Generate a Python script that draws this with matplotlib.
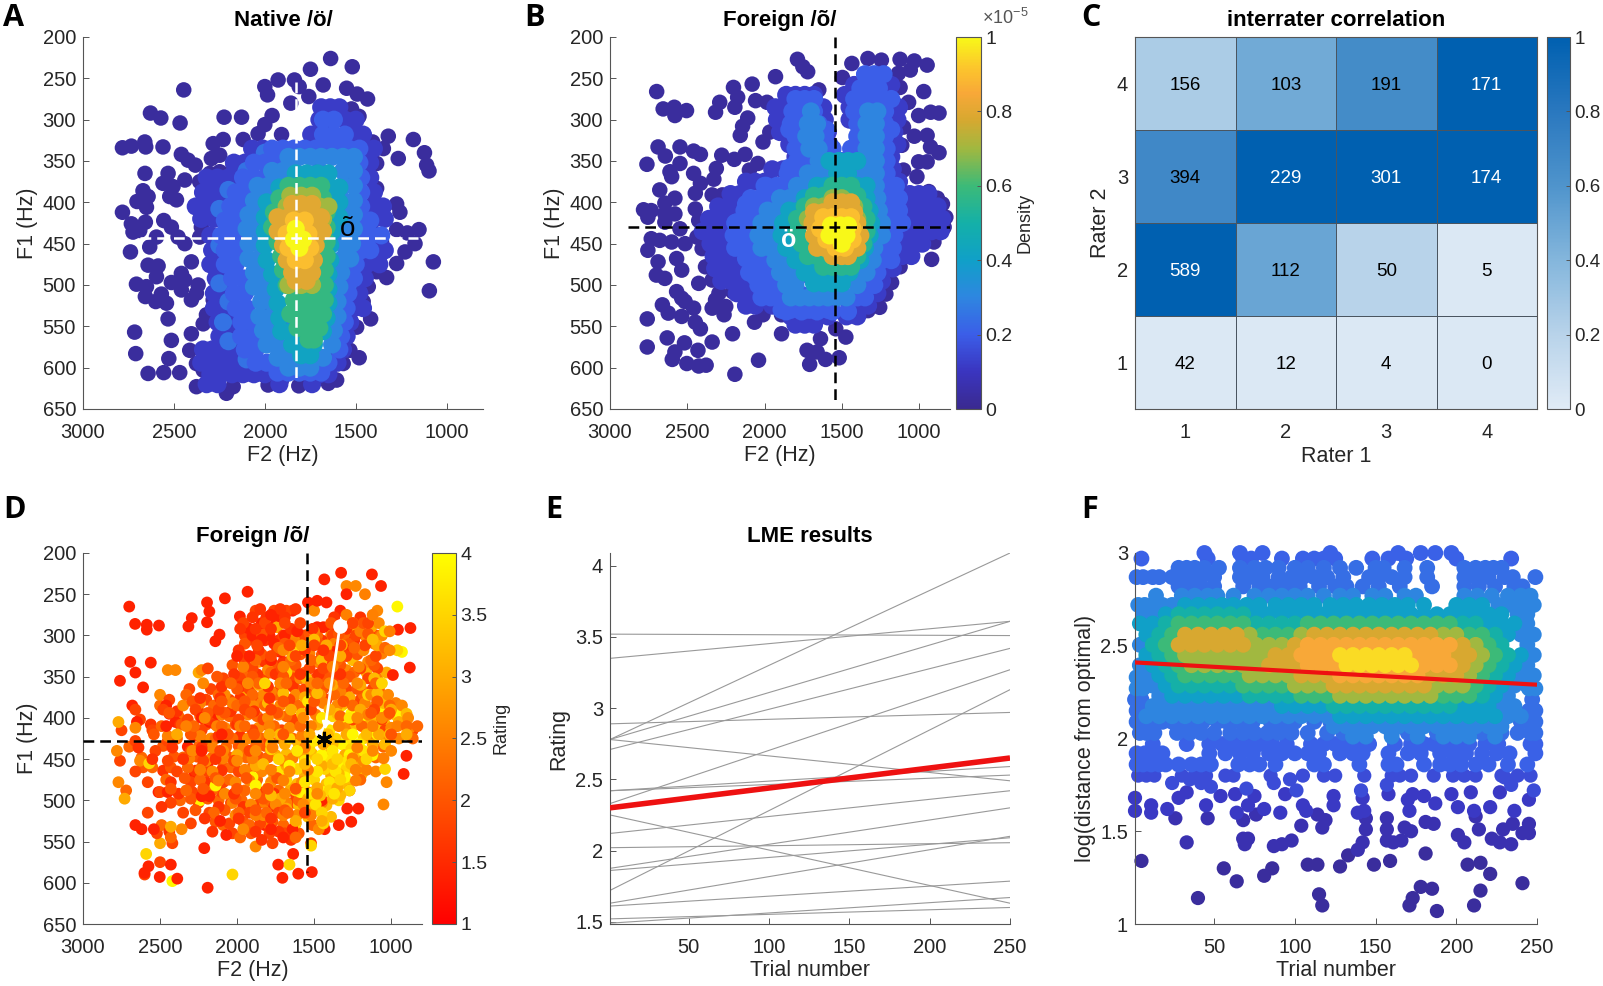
import numpy as np
import matplotlib
matplotlib.use('Agg')
import matplotlib.pyplot as plt
from matplotlib.colors import LinearSegmentedColormap, Normalize
from matplotlib.cm import ScalarMappable

plt.rcParams['font.family'] = ['Liberation Sans', 'DejaVu Sans']
plt.rcParams['mathtext.fontset'] = 'custom'
plt.rcParams['mathtext.rm'] = 'Liberation Sans'

W, H = 1603, 986

# panel A, single points round the edge (F2, F1)
a_out = [(1638,226),(1519,236),(1749,239),(1837,252),(1927,252),(2000,260),(1985,270),(1811,260),(1857,280),(1758,272),
(1679,258),(1550,262),(1492,269),(1435,275),(2446,264),(2629,292),(2572,298),(2466,304),(2224,297),(2128,297),(1960,295),
(2000,306),(1523,287),(1482,296),(1321,320),(1183,324),(1122,340),(1110,355),(1097,362),(1266,347),(1348,335),(1407,327),
(2783,334),(2734,332),(2660,327),(2655,333),(2560,333),(2459,342),(2422,349),(2382,355),(2659,365),(2532,365),(2560,377),
(2505,381),(2523,393),(2440,373),(2358,375),(2284,329),(2229,324),(2119,324),(2294,347),(2248,343),(2037,317),(1908,318),
(2303,365),(2248,363),(2174,355),(2670,386),(2642,393),(2703,399),(2651,406),(2486,397),(2783,412),(2734,426),(2688,434),
(2725,436),(2657,424),(2556,422),(2514,430),(2477,442),(2596,442),(2633,454),(2440,450),(2358,442),(2349,430),(2739,460),
(2642,476),(2587,477),(2596,490),(2404,472),(2459,486),(2514,497),(2706,499),(2651,502),(2657,514),(2569,511),(2541,522),
(2600,520),(2532,541),(2459,506),(2404,518),(2367,500),(2440,494),(2376,510),(2716,557),(2710,583),(2514,567),(2528,589),
(2642,607),(2556,606),(2468,606),(2404,559),(2284,518),(2321,536),(2339,547),(2248,543),(2413,579),(2376,595),(2339,603),
(2284,619),(2376,623),(2211,631),(2174,623),(2266,583),(2193,575),(2138,591),(2092,607),(1982,621),(1908,615),(1813,622),
(1734,613),(1651,619),(1605,615),(1569,595),(1532,579),(1481,588),(1605,587),(1495,551),(1418,541),(1459,520),(1431,502),
(1330,491),(1385,484),(1275,474),(1229,460),(1174,450),(1073,472),(1095,507),(1152,433),(1216,437),(1275,433),(1257,412),
(1275,402),(1376,414),(1358,448),(1358,462),(1385,383),(1385,353),(1440,462),(1532,490)]

# panel A, dense part as (F1, [F2...]) per colour band
a_d12 = [(285,[1690,1640,1590]),(300,[1700,1640,1560,1500]),(318,[1745,1690,1520,1460]),(335,[2070,2010,1440,1400]),
(352,[2170,2110,1420]),(370,[2320,2260,2200,2150,1420]),(388,[2340,2280,2220,1400]),(405,[2380,2320,2260,1410,1350]),
(420,[2350,2280,1400,1340]),(440,[2300,1390]),(458,[2290,2230,1400,1340]),(475,[2300,2240,1440,1370]),(492,[2270,2210,1450]),
(510,[2280,2220,1480]),(528,[2280,2210,1510,1460]),(545,[2260,2190,1530]),(562,[2250,2180,1550]),(578,[2340,2290,2230,2170,1570]),
(594,[2350,2290,2230,2170,2110,1600]),(608,[2300,2240,2180,2120,2060,2000,1700,1650]),(620,[2320,2260,1920,1740])]
a_fill = [(340,[2000,1800,1600]),(362,[2100,1900,1700,1520]),(385,[2200,2000,1800,1600]),(408,[2250,2100,1900,1700,1500]),
(430,[2200,2000,1800,1600,1440]),(452,[2250,2100,1900,1700,1500]),(475,[2200,2000,1800,1600]),(498,[2250,2100,1900,1700,1540]),
(520,[2200,2000,1800,1600]),(545,[2230,2100,1900,1700,1580]),(568,[2200,2000,1800,1620]),(590,[2100,1900,1720])]
a_d20 = [(300,[1680,1620]),(318,[1680,1620,1560]),(335,[1960,1900,1840,1780,1720,1660,1600,1540,1480]),(352,[2060,2000,1940,1480]),
(370,[2120,2060,2000,1470]),(388,[2160,2100,1470]),(405,[2190,2130,1470]),(422,[2220,2160,2100,1470,1420]),
(440,[2240,2180,2120,1480,1420,1360]),(458,[2220,2160,1470,1420]),(475,[2220,2160,1500]),(492,[2180,2120,1510]),(510,[2170,2110,1540]),
(528,[2160,2100,1550]),(545,[2130,2070,1560]),(562,[2130,2060,1580]),(578,[2110,2050,1590]),(594,[2050,1990,1650]),
(606,[1930,1870,1810,1750,1690])]
a_d30 = [(345,[1870,1810,1750,1690,1630,1570,1510]),(362,[1960,1900,1840,1570,1510]),(380,[2040,1980,1920,1570,1510]),
(398,[2060,2000,1570,1510]),(415,[2090,2030,1560,1510]),(432,[2100,2040,1560,1510]),(450,[2090,2030,1570,1520]),(468,[2090,2030,1570,1530]),
(485,[2060,2000,1580]),(502,[2060,2000,1590]),(520,[2020,1960,1600]),(538,[2030,1960,1600]),(555,[2010,1950,1620]),(572,[1990,1930,1630]),
(588,[1930,1870,1680]),(600,[1870,1810,1750])]
a_d42 = [(365,[1830,1770,1710,1650]),(382,[1920,1860,1650,1590]),(400,[1990,1930,1640,1590]),(418,[2000,1640,1590]),(435,[2000,1630]),
(452,[2000,1640]),(470,[1990,1640]),(487,[1960,1650]),(505,[1940,1650]),(522,[1930,1650]),(540,[1920,1660]),(556,[1910,1850,1680]),
(572,[1850,1790,1730]),(585,[1800,1750])]
a_d58 = [(380,[1870,1810,1750,1690]),(395,[1920,1680]),(412,[1950,1660]),(430,[1960,1660]),(448,[1930,1660]),(465,[1910,1660]),
(482,[1900,1670]),(500,[1880,1670]),(518,[1840,1780,1720,1670]),(535,[1860,1800,1740,1680]),(552,[1820,1760,1700]),(566,[1760,1730])]
a_d70 = [(392,[1860,1800,1740]),(405,[1880,1700,1650]),(420,[1900,1680]),(500,[1870,1800,1740]),(490,[1820,1760])]
a_d80 = [(402,[1850,1800,1740]),(418,[1930,1870,1810,1750,1690]),(435,[1930,1730,1680]),(452,[1900,1720]),(470,[1880,1730]),
(485,[1850,1790,1740]),(495,[1830,1770])]
a_d90 = [(422,[1840,1780]),(438,[1880,1820,1760]),(455,[1870,1810,1750]),(470,[1830,1780])]
a_d100 = [(432,[1830]),(445,[1840,1790]),(455,[1810])]

# panel B
b_out = [(2698,266),(2656,287),(2584,285),(2580,295),(2505,289),(2317,291),(2290,279),(2201,261),(2174,273),(2192,285),(2080,257),
(2058,277),(2109,298),(2142,308),(2157,319),(1929,248),(1787,227),(1752,236),(1721,242),(1984,279),(1966,315),(2010,327),(1649,264),
(1496,249),(1435,232),(1331,226),(1244,228),(1123,227),(1031,229),(1057,240),(948,234),(1134,244),(970,266),(1123,261),(1068,279),
(1003,295),(925,291),(871,292),(1101,309),(1031,320),(948,319),(1112,331),(926,333),(871,340),(1003,351),(948,351),(1101,361),(1014,369),
(937,387),(882,395),(849,402),(827,418),(838,430),(904,448),(919,469),(1068,459),(1123,478),(1233,483),(1178,497),(1215,511),(1255,527),
(1331,531),(1397,524),(1430,535),(1342,502),(2689,333),(2642,344),(2761,354),(2547,333),(2547,353),(2612,363),(2601,369),(2459,338),
(2415,342),(2277,343),(2312,359),(2328,372),(2196,348),(2126,342),(2098,361),(2043,353),(2678,385),(2580,395),(2645,401),(2645,414),
(2580,414),(2645,424),(2547,432),(2783,409),(2733,410),(2755,418),(2459,365),(2415,377),(2448,389),(2339,391),(2273,391),(2448,408),
(2426,422),(2733,444),(2678,446),(2601,448),(2755,458),(2689,472),(2700,488),(2645,492),(2569,468),(2514,450),(2536,482),(2437,442),
(2404,456),(2569,508),(2514,520),(2536,516),(2661,524),(2623,534),(2536,538),(2459,528),(2448,545),(2415,553),(2759,541),(2759,575),
(2630,564),(2518,570),(2580,581),(2597,590),(2503,595),(2431,579),(2426,598),(2378,597),(2339,569),(2317,518),(2339,528),(2262,536),
(2207,559),(2039,591),(2192,608),(2065,545),(2010,536),(1890,536),(1890,559),(1725,579),(1660,581),(1605,590),(1638,565),(1708,596),
(1517,588),(1539,553),(1474,563),(1605,538),(1758,545),(1693,547),(1813,535),(2251,478),(2382,478),(2426,498),(2339,494),(2295,510),
(2229,490),(2142,500),(2207,508),(2251,526),(2098,506),(2054,514),(1988,526),(1901,506),(1835,522)]

b_d12 = [(258,[1420,1360,1300,1240,1180]),(270,[1860,1800,1740,1680,1480,1200]),(285,[1930,1870,1620,1450,1130]),(300,[1920,1870,1610,1450,1140]),
(315,[1900,1830,1590,1160]),(330,[1840,1580,1190,1140]),(345,[1800,1560,1180]),(360,[1950,1880,1810,1170]),(375,[2120,2060,2000,1190,1130]),
(390,[2220,2160,1120,1060,1000,940]),(405,[2300,2240,2180,1060,1000,940,880]),(420,[2360,2300,2240,1080,1020,960,900,850]),
(435,[2400,2340,2280,1100,1040,980,920,860]),(450,[2350,2290,2230,1170,1110,1050,980]),(465,[2330,2270,2200,1170,1110,1050]),
(480,[2320,2260,2190,1170]),(495,[2280,2220,2150,1290,1240]),(510,[2180,2120,2060,1320,1270]),(525,[2120,2060,1950,1890,1450,1390,1330]),
(538,[1830,1770,1710,1650,1590,1470,1400]),(548,[1800,1740,1680])]
b_fill = [(270,[1360,1260]),(290,[1780,1680,1420,1320,1220]),(312,[1840,1720,1600,1380,1280,1180]),(335,[1800,1680,1560,1440,1340,1240]),
(358,[1840,1720,1600,1480,1360,1240]),(380,[2000,1880,1760,1640,1520,1400,1280,1180]),(402,[2120,2000,1880,1760,1640,1520,1400,1280,1180]),
(424,[2180,2060,1940,1820,1700,1580,1460,1340,1220,1120]),(446,[2160,2040,1920,1800,1680,1560,1440,1320,1200]),
(468,[2120,2000,1880,1760,1640,1520,1400,1280]),(490,[2060,1940,1820,1700,1580,1460,1340]),(512,[2000,1880,1760,1640,1520,1400]),
(532,[1860,1760,1660,1560,1460])]
b_d20 = [(245,[1350,1290,1230]),(262,[1380,1320,1260]),(275,[1800,1740,1680,1420,1360,1300,1240,1180]),(290,[1820,1760,1700,1410,1350,1290,1230]),
(305,[1830,1770,1650,1400,1220]),(320,[1800,1610,1400,1220]),(335,[1770,1580,1390,1210]),(350,[1790,1720,1500,1440,1210]),(365,[1850,1780,1210]),
(380,[1990,1920,1850,1200,1150]),(395,[2090,2030,1960,1190,1130]),(410,[2130,2070,2010,1190,1130]),(425,[2190,2130,2070,1170,1110]),
(440,[2200,2140,2080,1220,1160]),(455,[2190,2130,2070,1230,1170]),(470,[2100,2040,1980,1240,1180]),(485,[2100,2040,1980,1270]),
(500,[2040,1980,1920,1340,1290]),(515,[2020,1960,1900,1400,1350]),(530,[1890,1830,1770,1710,1650,1590])]
b_d30 = [(290,[1700,1330,1270]),(305,[1720,1660,1340,1280]),(320,[1730,1670,1340,1280]),(335,[1710,1650,1340,1280]),(350,[1650,1590,1350,1280]),
(365,[1720,1650,1590,1400,1340,1280]),(380,[1790,1730,1280]),(395,[1900,1840,1780,1270]),(410,[1980,1920,1260]),(425,[2020,1960,1240]),
(440,[2040,1980,1240]),(455,[2020,1960,1290]),(470,[1930,1870,1300]),(485,[1900,1840,1340]),(500,[1860,1800,1400]),
(515,[1830,1770,1710,1650,1590,1530,1470])]
b_d42 = [(350,[1580,1520,1460,1400]),(365,[1530,1460]),(380,[1660,1600,1400,1340]),(395,[1740,1680,1340]),(410,[1840,1780,1320]),(425,[1880,1820,1310]),
(440,[1890,1830,1320]),(455,[1860,1800,1350]),(470,[1800,1740,1380]),(485,[1740,1680,1620,1450]),(498,[1680,1620,1560,1500])]
b_d55 = [(380,[1560,1500,1440]),(392,[1680,1620,1400]),(405,[1740,1360]),(420,[1790,1340]),(435,[1790,1340]),(450,[1760,1360]),(465,[1720,1660,1400]),
(478,[1620,1560,1500,1440])]
b_d68 = [(395,[1560,1500]),(405,[1680,1620,1420]),(420,[1720,1400])]
b_d80 = [(400,[1560,1500,1440]),(412,[1680,1620,1420]),(425,[1690,1400]),(440,[1680,1380]),(455,[1660,1610,1400]),(465,[1560,1500,1460])]
b_d90 = [(418,[1620,1560,1500,1440]),(432,[1640,1430]),(445,[1600,1430]),(455,[1540,1480])]
b_d100 = [(428,[1570,1510,1460]),(440,[1580,1520,1470]),(450,[1500])]

# panel C
c_counts = [[42,12,4,0],[589,112,50,5],[394,229,301,174],[156,103,191,171]]
c_shade = [[0.03,0.03,0.03,0.03],[1,0.5,0.2,0.03],[0.68,1,1,1],[0.25,0.47,0.66,1]]
raters = [1,2,3,4]

# panel D, rating groups as (F1, [F2...])
d_r14 = [(224,[1325]),(226,[1125]),(232,[1434]),(240,[1066]),(247,[1932]),(250,[1290]),(255,[2079]),(258,[1480]),(260,[2195,1540,1420]),(265,[2700]),
(270,[1330,1640]),(271,[2180]),(275,[1780]),(277,[1982,1720]),(279,[2294]),(284,[2195]),(285,[1840]),(286,[2662,1750]),(287,[2586]),(288,[2507]),(289,[2316]),
(290,[1810,1480,1440,1400]),(291,[875,1930]),(293,[2586,956]),(295,[1870,1610]),(299,[2114]),(300,[1900,1790,1690]),(305,[1840]),(307,[2141]),(310,[1760]),
(320,[1370,1720]),(325,[2000,1920]),(330,[1780]),(332,[2693]),(333,[2560]),(339,[879]),(345,[1800,1700,2660]),(348,[989]),(355,[1630,2760]),(363,[2610]),
(385,[2680,2460]),(395,[2440,2130]),(400,[2230]),(405,[2650,2400,2180]),(410,[2460]),(420,[2100]),(435,[2320]),(440,[2230]),(446,[901]),(455,[2190]),
(468,[919]),(470,[2280]),(490,[2510,2450]),(495,[2230,2180]),(500,[1450]),(510,[1285,1213]),(526,[1259]),(530,[2660,1340,1820]),(535,[2620,2540,1780,1432,1640]),
(525,[2110]),(542,[2070]),(545,[1700]),(558,[2213]),(565,[1636]),(578,[1733,2430]),(580,[2575]),(587,[1515]),(588,[2601]),(589,[1603]),(593,[2502]),
(594,[1706]),(595,[2388]),(606,[2191])]
d_r16 = [(268,[1850,1720,1620]),(278,[1900,1810,1690,1370,1200]),(292,[1980,1880,1780,1650,1510,1290]),(306,[1930,1820,1730,1600,1450,1240]),
(318,[1990,1860,1740,1560,1440,1290]),(332,[1950,1820,1700,1480,1380]),(347,[2020,1870,1750,1590,1470,1330]),(362,[2100,1980,1800,1640]),(376,[2240,2110,1980,1790]),
(392,[2390,2250,2040,1890]),(408,[2560,2370,2140,2000]),(422,[2280,2120,1980]),(436,[2640,2420,2230]),(450,[2550,2350,2140]),(464,[2480,2270,2100]),(478,[2430,2200]),
(492,[2380,2020,1760]),(508,[2490,2120,1960,1760]),(522,[2210,1990,1780]),(538,[2440,2160,1880,1730]),(548,[1840,1650])]
d_r18 = [(270,[1880,1760,1680]),(285,[1960,1820,1690,1590,1250,1150]),(300,[1950,1700,1560,1380,1230,1100]),(312,[1870,1660,1500,1330,1170]),
(325,[1960,1780,1620,1400,1290,1100]),(340,[2190,1900,1710,1530,1440,1200,1090]),(352,[2090,1980,1830,1640,1490,1350,1150]),(365,[2310,2170,1920,1720,1560,1290,1120]),
(378,[2440,2200,2050,1860,1660,1420,1200]),(390,[2660,2480,2270,2120,1950,1780,1520,1110]),(402,[2630,2320,2180,1990,1830,1630,1250,1060]),
(415,[2750,2550,2230,2080,1900,1710,1040,860]),(428,[2660,2450,2190,1960,1790]),(440,[2530,2300,2110,1920]),(452,[2760,2450,2220,2020]),
(465,[2660,2390,2190,1990,1760]),(478,[2580,2300,2090]),(490,[2500,2290,2100,1830,1630]),(503,[2430,2250,2040,1850,1640]),(515,[2580,2350,2180,1920,1730,1560]),
(528,[2300,2050,1850,1620]),(540,[2520,2030,1790,1690]),(552,[2420,1770,1520]),(575,[2500]),(590,[2600])]
d_r20 = [(285,[1390,1180]),(298,[1840,1530,1340,1150]),(310,[1950,1690,1470,1270]),(323,[1840,1590,1450,1220]),(336,[2030,1760,1620,1330,1110]),(350,[2130,1900,1700,1430,1270]),
(365,[2000,1820,1620,1440,1220,1080]),(380,[2290,2100,1950,1700,1500,1310,1090]),(394,[2440,2190,2080,1910,1740,1130,1010]),(408,[2360,2200,2010,1820,1640,1100,940]),
(420,[2540,2300,2060,1890,1700,1000]),(434,[2480,2200,1990,1820]),(447,[2410,2260,2060,1860]),(460,[2610,2430,2230,2090]),(473,[2340,2140,1940,1740]),
(486,[2430,2220,2000,1800,1620]),(498,[2300,2190,2010,1830]),(512,[2270,2080,1880,1690]),(526,[2140,1960,1770]),(540,[1910,1600])]
d_r22 = [(300,[1640,1480,1300,1070]),(315,[1730,1420,1240,1040]),(330,[1880,1650,1520,1350,1130]),(345,[1950,1780,1560,1400,1240]),(358,[2040,1860,1680,1480,1310,1100]),
(372,[2330,2120,1900,1750,1540,1370,1180,1060]),(385,[2500,2150,2000,1820,1600,1250,1010]),(398,[2380,2240,2050,1870,1680,1330,1130,960]),
(410,[2490,2280,2100,1950,1760,1590,1190,900,830]),(425,[2390,2140,2030,1840,1640,860]),(435,[2700,2250,2070,1880,1050]),(448,[2620,2350,2160,1940,1800,1100]),
(460,[2550,2320,2040,1900]),(475,[2460,2240,2050,1870,1200]),(488,[2720,2330,2160,1950,1730,1270]),(500,[2370,2120,1970,1790,1600]),(515,[2150,1990,1810,1670]),
(530,[2490,2090,1920,1700,1510]),(545,[2430,1980,1620])]
d_r25 = [(250,[1170]),(275,[1290,1120]),(295,[1500,1200,1010]),(310,[1630,1370,1110]),(322,[1530,1240,1060]),(338,[1960,1700,1380,1210]),(352,[1880,1590,1430,1090]),
(368,[1960,1780,1510,1330,1180]),(382,[2240,2030,1840,1650,1440,1170,970]),(396,[2100,1930,1730,1490,1150,1020]),(410,[2330,2130,1980,1790,1520,1340,1120,960]),
(422,[2450,2240,2060,1880,1580,1140,1010]),(436,[2160,1960,1770,1560,1220]),(449,[2310,2090,1900,1640,1250,1050]),(463,[2240,1950,1780,1540,1230,1160]),
(476,[2120,1920,1700,1230]),(490,[2000,1770,1540]),(503,[2030,1820,1680,1450]),(518,[1880,1700,1520]),(530,[1790,1440])]
d_r26 = [(240,[1230,1290]),(270,[1500,1090]),(285,[1250,1080]),(300,[1620,1390,1170,1060]),(318,[1700,1310,1180,1010]),(332,[1860,1470,1150]),
(342,[2450,2400,2230,1800,1640,1290]),(358,[2220,1930,1720,1520,1400,1220]),(372,[2500,2080,1830,1620,1460,1130,1020]),(385,[2350,1900,1720,1530,1350,1100,930]),
(400,[2210,1800,1570,1220,1060,890]),(412,[2660,2080,1860,1660,1290,1000,880]),(425,[2170,1930,1720,1030,950]),(440,[2780,2290,2090,1880,1610,1120,1000]),
(452,[2630,2200,2000,1700,1180]),(465,[2160,1840,1660,1100]),(478,[2770,2010,1780,1580,1030]),(492,[2080,1880,1690,1480]),(505,[1910,1750,1570,1050]),
(518,[2010,1830,1610]),(535,[2360,1960,1470]),(556,[1880])]
d_r30 = [(290,[1740,1250,1130]),(312,[1580,1420,1320,1090]),(325,[1640,1330]),(345,[2250,1620,1310,1160,1030]),(360,[1860,1380,1200]),(375,[1940,1560,1270,1040]),
(390,[1650,1400,1200,1000]),(405,[2770,1470,1130,950]),(420,[2390,1790,1530,1290,1080,900]),(432,[1690,1440,1120]),(445,[2000,1750,1570,1300,1130]),
(458,[2200,1880,1680,1450,1210]),(470,[1930,1760,1560,1390]),(485,[1800,1650,1480,1350]),(498,[2730,1720,1540,1380]),(510,[1680,1510]),(525,[1620,1450]),
(532,[2430]),(552,[2500])]
d_r32 = [(305,[1500,1120]),(330,[1450,1250]),(352,[1550,1110]),(370,[1700,1480,1090]),(382,[1800,1300,1050]),(395,[1580,1350,1110,900]),(408,[1620,1480,1230,1040]),
(420,[1720,1410,1160,1010]),(432,[1780,1600,1380,1040]),(444,[1680,1510,1400,1210]),(456,[1830,1560,1380,1260]),(468,[1700,1500,1340,1190]),(480,[1880,1610,1420,1290]),
(494,[1780,1460,1330]),(506,[1600,1420]),(520,[1540,1390])]
d_r35 = [(295,[1040]),(318,[1590,960]),(345,[1680]),(358,[1820,1060]),(372,[1150]),(385,[1620,1320]),(398,[1380,1180,960]),(412,[1290,1100]),(425,[1660,1360,1180]),
(438,[1780,1530,1260]),(450,[1730,1480,1350,1160]),(455,[2570]),(462,[1610,1430,1290,1040]),(475,[1680,1500,1330]),(488,[1620,1400,1270]),(500,[1510,1340]),
(515,[1450]),(528,[1440,1620]),(555,[1520]),(565,[2590]),(578,[1660]),(590,[2030])]
d_r37 = [(380,[1540]),(400,[1450,1270]),(415,[1400,1140]),(428,[1500,1270]),(440,[1610,1380,1180]),(452,[1560,1410,1280]),(465,[1720,1480,1360]),(478,[1560,1400]),
(492,[1520,1370]),(505,[1490])]
d_r39 = [(265,[960]),(320,[930]),(395,[1260,1060,950]),(408,[1180,1320]),(420,[1250,1090]),(432,[1320,1210]),(445,[1270,1450,1120]),(458,[1420,1660,1320]),
(472,[1300,1900]),(482,[2140,1880]),(490,[1870,1590,1440]),(500,[1710,2240]),(598,[2420])]

# panel E
e_start = [2.78,3.35,2.78,3.52,2.71,2.33,1.72,2.89,2.42,2.42,2.78,2.12,1.875,1.63,1.86,2.02,2.25,1.61,1.52,1.49]
e_end = [4.09,3.61,3.61,3.51,3.42,3.27,3.13,2.97,2.59,2.53,2.49,2.42,2.30,2.10,2.09,2.055,1.63,1.785,1.60,1.67]
e_mean = [2.30,2.65]
e_trials = [1,250]

# panel F, (y, [trial...]) per colour band
f_d03 = [(1.07,[188]),(1.10,[117,171,211]),(1.14,[40,173]),(1.16,[115]),(1.18,[215]),(1.19,[185]),(1.20,[178]),(1.22,[241]),(1.23,[64]),(1.26,[81]),(1.27,[221]),
(1.30,[56,86]),(1.31,[128]),(1.32,[108,114,149,207]),(1.33,[215]),(1.34,[5,159]),(1.37,[133]),(1.38,[181])]
f_d07 = [(1.40,[139]),(1.42,[87]),(1.43,[92,69,234]),(1.44,[33,142,161,205,227]),(1.45,[98,157,166]),(1.46,[68,71,222]),(1.48,[201]),(1.49,[241,245]),(1.50,[172]),
(1.51,[144,157,214,229]),(1.52,[117,168]),(1.53,[104]),(1.54,[186,235,245]),(1.55,[181]),(1.56,[68,119]),(1.57,[26,46,144,157]),(1.58,[212]),(1.59,[76,114])]
f_d11 = [(1.60,[11,64,91,139]),(1.61,[1,107,143,171,211,236]),(1.62,[21,81]),(1.63,[201,221]),(1.64,[11,45,71,105,124]),(1.65,[187]),(1.67,[170,245]),(1.68,[1,28,142]),
(1.69,[54,75,124,180]),(1.70,[63,94,158,173,197]),(1.71,[33,209,227])]
f_d16 = [(1.72,[101,141,248]),(1.73,[70]),(1.74,[48]),(1.75,[157,234]),(1.76,[24,42,87]),(1.78,[35,97]),(1.79,[230]),
(1.80,[3,8,13,30,38,45,57,62,85,105,118,125,143,160,165,172,186,198,205,212,228,238,246])]
f_d21 = [(1.86,[2,6,11,16,20,28,36,42,48,65,72,78,88,112,118,140,158,163,180,190,196,203,212,220,232,244]),
(1.92,[2,7,13,18,47,57,66,74,84,92,100,108,115,128,136,142,158,170,178,190,198,206,216,225,233,249]),
(1.97,[12,33,47,55,62,70,78,86,95,110,118,125,131,138,146,162,172,180,186,194,200,208,218,226,246,249]),
(3.0,[44,66,80,122,164,178,187,197]),(2.97,[5,46,68,73,92,105,112,118,125,148,158,169,200,234])]
f_d24 = [(2.03,[4,8,13,27,35,42,50,60,68,75,83,90,98,108,120,130,160,170,188,198,206,216,228,238,246,249]),
(2.09,[2,6,10,14,18,24,30,36,43,52,58,66,74,85,93,100,112,122,240,246,249]),
(2.15,[2,6,249,245]),(2.21,[1,5,247]),(2.92,[28,33,38,44,53,66,75,82,90,100,108,118,128,138,150,155,168,182,205,212,218,223,228]),
(2.87,[2,6,12,16,24,30,36,42,50,66,72,80,90,98,105,112,120,130,146,152,160,168,182,205,212,220,230,235,249]),
(2.82,[28,35,42,50,68,78,86,95,103,115,125,132,142,152,165,185,205,214,224,236,241])]
f_d30 = [(2.77,[14,30,38,46,52,62,75,84,92,100,108,118,128,136,148,156,168,175,205,213,222,232,240,246]),
(2.72,[3,7,12,18,24,248,242,234,226]),(2.67,[6,12,238,244]),(2.62,[244]),(2.56,[240,248]),(2.505,[4,244]),(2.45,[248]),(2.395,[4,244]),(2.34,[8,240,248]),
(2.285,[4,12,236,244]),(2.23,[16,232]),(2.175,[12,20,28,36,44,52,60,68,76,84,228,236]),
(2.12,[8,16,24,32,40,48,56,64,72,80,88,96,104,112,120,232,240]),(2.065,[124,132,140,148,156,164,172,180,188,196,204,212,220,228]),
(2.01,[136,144,160,176,192,200,208,224]),(2.27,[2,6,245,249]),(2.33,[2,243])]
f_d40 = [(2.72,[32,40,48,55,62,70,78,88,96,104,112,122,130,138,146,154,162,170,180,200,208,216]),
(2.67,[20,76,84,92,100,108,116,124,132,140,148,156,164,172,180,188,196,204,212,220,228]),(2.62,[4,12,220,228,236]),(2.56,[8,232]),(2.45,[8,240]),(2.395,[12,236]),
(2.34,[16,232]),(2.285,[20,228]),(2.23,[24,32,40,48,56,64,224]),(2.175,[92,100,108,116,204,212,220]),(2.12,[128,136,144,152,160,168,176,184,192,200,208,216,224])]
f_d50 = [(2.67,[28,36,44,52,60,68]),(2.62,[20,76,84,92,100,204,212]),(2.56,[16,224]),(2.505,[12,228]),(2.45,[16,232]),(2.395,[20,228]),(2.34,[24,224]),
(2.285,[28,36,44,52,60,220]),(2.23,[72,80,88,96,216]),(2.175,[124,132,140,148,156,164,172,180,188,196])]
f_d60 = [(2.62,[28,36,44,52,60,68,108,116,124,132,140,148,156,164,172,180,188,196]),(2.56,[24,80,88,96,208,216]),(2.505,[20,220]),(2.45,[24,224]),(2.395,[28,220]),
(2.34,[32,40,48,56,64,216]),(2.285,[68,76,84,92,212]),(2.23,[104,112,120,192,200,208])]
f_d70 = [(2.56,[72,104,192,200]),(2.505,[76,84,92,212]),(2.45,[32,40,48,56,64,72,80,216]),(2.395,[36,44,52,60,68,76,212]),(2.34,[72,80,88,96,208]),
(2.285,[100,108,116,188,196,204]),(2.23,[128,136,144,152,160,168,176,184])]
f_d78 = [(2.56,[32,40,48,56,64,112,120,128,136,144,152,160,168,176,184]),(2.505,[28,36,44,52,60,68,100,204]),(2.45,[88,96,200,208]),(2.395,[84,92,100,204]),
(2.34,[104,112,120,184,192,200]),(2.285,[124,132,140,148,156,164,172,180])]
f_d85 = [(2.505,[108,116,124,132,140,148,156,164,172,180,188,196]),(2.45,[104,112,120,176,184,192]),(2.395,[108,116,124,180,188,196]),
(2.34,[128,136,144,152,160,168,176])]
f_d95 = [(2.45,[128,136,144,152,160,168]),(2.395,[132,140,148,156,164,172])]
f_fit = [2.41,2.29]

parula_ish = LinearSegmentedColormap.from_list('parula_ish', [
    (0.0,'#3a2a90'),(0.1,'#3a35c0'),(0.2,'#3b5ee8'),(0.3,'#2e86e0'),(0.4,'#10a0c8'),(0.5,'#14b0a8'),
    (0.6,'#3cba78'),(0.7,'#a0b840'),(0.78,'#d8a830'),(0.85,'#f8a838'),(0.92,'#fcc62c'),(1.0,'#f8f818')])
blues_ish = LinearSegmentedColormap.from_list('blues_ish', ['#e0ebf6','#b8d3ea','#84b6dc','#4f94cc','#2a78bf','#0060b0'])
ink = '#262626'
spine = '#555555'


def add_axes(l, t, r, b):
    ax = fig.add_axes([l/W, 1-b/H, (r-l)/W, (b-t)/H])
    for s in ['top','right']:
        ax.spines[s].set_visible(False)
    for s in ['left','bottom']:
        ax.spines[s].set_color(spine)
        ax.spines[s].set_linewidth(0.8)
    ax.tick_params(direction='in', length=4, width=0.7, color=spine, labelcolor=ink, labelsize=14.5, pad=5)
    ax.tick_params(axis='x', pad=10)
    return ax


def add_cbar(l, t, r, b, cmap, vmin, vmax, ticks, labels, size=14):
    cax = fig.add_axes([l/W, 1-b/H, (r-l)/W, (b-t)/H])
    cb = fig.colorbar(ScalarMappable(Normalize(vmin, vmax), cmap), cax=cax)
    cb.set_ticks(ticks)
    cb.set_ticklabels(labels)
    cb.outline.set_edgecolor(spine)
    cb.outline.set_linewidth(0.8)
    cax.tick_params(direction='in', length=3, width=0.7, color=spine, labelcolor=ink, labelsize=size, pad=3)
    return cb


def unpack(rows):
    row_vals, vals = [], []
    for r, items in rows:
        for v in items:
            row_vals.append(r)
            vals.append(v)
    return vals, row_vals


def density_scatter(ax, bands, s):
    for level, rows in bands:
        x, y = unpack(rows)
        ax.scatter(x, y, s=s, c=[level]*len(x), cmap=parula_ish, vmin=0, vmax=1, linewidths=0, clip_on=False, zorder=2)


def formant_axes(ax, title):
    ax.set_xlim(3000, 800)
    ax.set_ylim(650, 200)
    ax.set_xticks([3000,2500,2000,1500,1000])
    ax.set_yticks([200,250,300,350,400,450,500,550,600,650])
    ax.set_xlabel('F2 (Hz)', fontsize=15.5, color=ink, labelpad=2)
    ax.set_ylabel('F1 (Hz)', fontsize=15.5, color=ink, labelpad=3)
    ax.set_title(title, fontsize=16, fontweight='bold', color='black', pad=8)


fig = plt.figure(figsize=(W/100, H/100), dpi=100)

# A
ax = add_axes(83, 37, 483, 409)
xs, ys = zip(*a_out)
ax.scatter(xs, ys, s=125, c=[0.03]*len(xs), cmap=parula_ish, vmin=0, vmax=1, linewidths=0, clip_on=False, zorder=2)
density_scatter(ax, [(0.12,a_d12),(0.25,a_fill),(0.2,a_d20),(0.3,a_d30),(0.42,a_d42),(0.58,a_d58),(0.7,a_d70),(0.8,a_d80),(0.9,a_d90),(1.0,a_d100)], 170)
ax.plot([1831,1831], [254,615], color='white', lw=1.8, dashes=(4.3,2.4), zorder=3)
ax.plot([2688,1156], [443,443], color='white', lw=1.8, dashes=(4.3,2.4), zorder=3)
ax.text(1545, 432, 'õ', fontsize=20, color='black', ha='center', va='center', zorder=4)
formant_axes(ax, 'Native /ö/')

# B
ax = add_axes(610, 37, 950, 409)
xs, ys = zip(*b_out)
ax.scatter(xs, ys, s=125, c=[0.03]*len(xs), cmap=parula_ish, vmin=0, vmax=1, linewidths=0, clip_on=False, zorder=2)
density_scatter(ax, [(0.12,b_d12),(0.2,b_fill),(0.2,b_d20),(0.3,b_d30),(0.42,b_d42),(0.55,b_d55),(0.68,b_d68),(0.8,b_d80),(0.9,b_d90),(1.0,b_d100)], 170)
ax.plot([1544,1544], [200,641], color='black', lw=1.8, dashes=(4.3,2.4), zorder=3)
ax.plot([2882,800], [430,430], color='black', lw=1.8, dashes=(4.3,2.4), zorder=3)
ax.text(1842, 446, 'ö', fontsize=18, fontweight='bold', color='white', ha='center', va='center', zorder=4)
formant_axes(ax, 'Foreign /õ/')
cb = add_cbar(956, 37, 981, 409, parula_ish, 0, 1, [0,0.2,0.4,0.6,0.8,1], ['0','0.2','0.4','0.6','0.8','1'])
fig.text(1025/W, 1-223/H, 'Density', rotation=90, fontsize=13, color=ink, ha='center', va='center')
fig.text(982/W, 1-18/H, '×10$^{-5}$', fontsize=13, color='#555555', ha='left', va='center')

# C
ax = add_axes(1135, 37, 1537, 409)
edges = [0.5,1.5,2.5,3.5,4.5]
ax.pcolormesh(edges, edges, np.array(c_shade), cmap=blues_ish, vmin=0, vmax=1, edgecolors='#4a5560', linewidth=0.6)
for i, row in enumerate(c_counts):
    for j, val in enumerate(row):
        ax.text(raters[j], raters[i], str(val), ha='center', va='center_baseline', fontsize=13.5,
                color='white' if c_shade[i][j] >= 0.9 else 'black')
ax.set_xticks(raters)
ax.set_yticks(raters)
ax.tick_params(length=0)
for s in ['top','right']:
    ax.spines[s].set_visible(True)
    ax.spines[s].set_color(spine)
ax.set_xlabel('Rater 1', fontsize=15.5, color=ink, labelpad=3)
ax.set_ylabel('Rater 2', fontsize=15.5, color=ink, labelpad=4)
ax.set_title('interrater correlation', fontsize=16, fontweight='bold', color='black', pad=8)
add_cbar(1547, 37, 1570, 409, blues_ish, 0, 1, [0,0.2,0.4,0.6,0.8,1], ['0','0.2','0.4','0.6','0.8','1'], size=13.5)

# D
ax = add_axes(83, 553, 422, 924)
d_x, d_y, d_c = [], [], []
for level, rows in [(1.4,d_r14),(1.6,d_r16),(1.8,d_r18),(2.0,d_r20),(2.2,d_r22),(2.5,d_r25),(2.6,d_r26),(3.0,d_r30),(3.2,d_r32),(3.5,d_r35),(3.7,d_r37),(3.9,d_r39)]:
    x, y = unpack(rows)
    d_x += x
    d_y += y
    d_c += [level]*len(x)
d_x, d_y, d_c = np.array(d_x), np.array(d_y), np.array(d_c)
order = np.argsort(d_y * 7 % 23 + d_x % 11)
ax.scatter(d_x[order], d_y[order], s=72, c=d_c[order], cmap='autumn', vmin=1, vmax=4, linewidths=0, clip_on=False, zorder=2)
ax.plot([1544,1544], [200,587], color='black', lw=1.8, dashes=(4.3,2.4), zorder=3)
ax.plot([3000,800], [428.5,428.5], color='black', lw=1.8, dashes=(4.3,2.4), zorder=3)
ax.annotate('', xy=(1434,418), xytext=(1333,289), arrowprops=dict(arrowstyle='-|>', color='white', lw=2, mutation_scale=10), zorder=4)
ax.scatter([1333], [289], s=110, color='white', linewidths=0, zorder=5)
ax.plot([1434], [425], marker=(6,2,0), ms=11, mew=2.2, color='black', zorder=5)
formant_axes(ax, 'Foreign /õ/')
add_cbar(432, 553, 456, 924, 'autumn', 1, 4, [1,1.5,2,2.5,3,3.5,4], ['1','1.5','2','2.5','3','3.5','4'])
fig.text(501/W, 1-728/H, 'Rating', rotation=90, fontsize=13, color=ink, ha='center', va='center')

# E
ax = add_axes(610, 553, 1010, 924)
for a, b in zip(e_start, e_end):
    ax.plot(e_trials, [a, b], color='#999999', lw=0.8, zorder=2)
ax.plot(e_trials, e_mean, color='#ee1111', lw=4, zorder=3, solid_capstyle='butt')
ax.set_xlim(1, 250)
ax.set_ylim(1.484, 4.09)
ax.set_xticks([50,100,150,200,250])
ax.set_yticks([1.5,2,2.5,3,3.5,4])
ax.set_yticklabels(['1.5','2','2.5','3','3.5','4'])
ax.set_xlabel('Trial number', fontsize=15.5, color=ink, labelpad=2)
ax.set_ylabel('Rating', fontsize=15.5, color=ink, labelpad=4)
ax.set_title('LME results', fontsize=16, fontweight='bold', color='black', pad=8)

# F
ax = add_axes(1135, 553, 1537, 924)
density_scatter(ax, [(0.03,f_d03),(0.07,f_d07),(0.11,f_d11),(0.16,f_d16)], 105)
density_scatter(ax, [(0.21,f_d21),(0.24,f_d24),(0.3,f_d30),(0.4,f_d40),(0.5,f_d50),
                     (0.6,f_d60),(0.7,f_d70),(0.78,f_d78),(0.85,f_d85),(0.95,f_d95)], 130)
ax.plot(e_trials, f_fit, color='#ee1111', lw=3, zorder=3, solid_capstyle='butt')
ax.set_xlim(1, 250)
ax.set_ylim(1, 3)
ax.set_xticks([50,100,150,200,250])
ax.set_yticks([1,1.5,2,2.5,3])
ax.set_yticklabels(['1','1.5','2','2.5','3'])
ax.set_xlabel('Trial number', fontsize=15.5, color=ink, labelpad=2)
ax.set_ylabel('log(distance from optimal)', fontsize=15.5, color=ink, labelpad=3)

# panel letters
for letter, px, py in [('A',3,18),('B',524,18),('C',1081,18),('D',3,510),('E',545,510),('F',1081,510)]:
    fig.text(px/W, 1-py/H, letter, fontsize=22, fontweight='bold', family='Open Sans', color='black', ha='left', va='center')

fig.savefig('out.png', dpi=100)
